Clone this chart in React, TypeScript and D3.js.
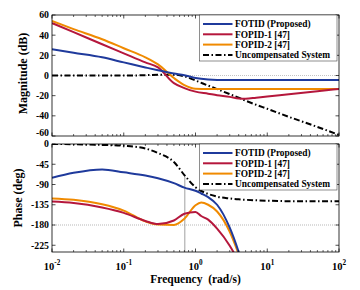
import React from "react";
import * as d3 from "d3";

// ---------- data ----------
const magFreqs = [0.01, 0.02, 0.05, 0.1, 0.2, 0.3, 0.5, 0.7, 1, 1.5, 2, 3, 4, 5, 7, 10, 20, 50, 100];
const fotidMag = [26, 22.5, 18, 13, 8, 5.2, 2, 0.3, -2.5, -4, -4.4, -4.5, -4.5, -4.5, -4.5, -4.5, -4.5, -4.5, -4.5];
const fopid1Mag = [52, 43, 31, 22, 13, 8, -7.5, -12.5, -16, -18, -19.5, -21.2, -22.8, -23, -22, -20.8, -18.6, -15.6, -13.4];
const fopid2Mag = [54, 46, 36, 27, 18, 11, -2.5, -9.5, -13.2, -13.5, -13.5, -13.5, -13.5, -13.5, -13.5, -13.5, -13.5, -13.5, -13.4];
const uncompMag = [0, 0, 0, 0, 0.3, 0.8, 0.8, -0.8, -5, -10, -13.5, -18.5, -22, -25, -29, -33, -41, -51, -59];

const phaseFreqs = [0.01, 0.02, 0.05, 0.1, 0.2, 0.3, 0.5, 0.7, 1, 1.2, 1.5, 2, 3, 4, 5];
const fotidPhase = [-75, -64, -56.5, -63, -70, -76, -87, -97, -104, -110, -118, -135, -186, -240, -290];
const fopid1Phase = [-128, -131, -141, -153, -171, -178, -170, -155, -151, -160, -168, -188, -226, -262, -295];
const fopid2Phase = [-121, -124, -134, -148, -172, -179, -180, -166, -136, -130, -135, -150, -195, -245, -290];
const uncompPhase = [0, -0.5, -2, -4, -10, -20, -40, -69, -96, -111, -117, -121, -123, -124, -125, -126, -127, -127, -127];

const markerFreq = 0.71;
const markerPhase = -72;

const magTicks = [60, 40, 20, 0, -20, -40, -60];
const phaseTicks = [0, -45, -90, -135, -180, -225];
const freqTicks = [-2, -1, 0, 1, 2];

const seriesNames = ["FOTID (Proposed)", "FOPID-1 [47]", "FOPID-2 [47]", "Uncompensated System"];
const seriesColors = ["#1f3a9c", "#b5173c", "#f08a00", "#000000"];
const seriesDash = [null, null, null, "6,2.5,1.5,2.5"];

// ---------- layout ----------
const W = 360, H = 290;
const L = 52, R = 339;
const magTop = 15, magBot = 136;
const phTop = 144, phBot = 252;
const FONT = "'Liberation Serif', 'Times New Roman', serif";

const x = d3.scaleLog().domain([0.01, 100]).range([L, R]);
const yMag = d3.scaleLinear().domain([-60, 60]).range([magBot, magTop]);
const yPh = d3.scaleLinear().domain([-240, 0]).range([phBot, phTop]);

const minorFreqs: number[] = [];
for (let d = -2; d < 2; d++) for (let k = 2; k <= 9; k++) minorFreqs.push(k * Math.pow(10, d));

function path(freqs: number[], vals: number[], y: d3.ScaleLinear<number, number>) {
  const gen = d3.line<number>()
    .x((_, i) => x(freqs[i]))
    .y((v) => y(v))
    .curve(d3.curveMonotoneX);
  return gen(vals) || "";
}

function Frame({ top, bot, yScale, ticks, nudge }: any) {
  const els: any[] = [];
  freqTicks.forEach((e) => {
    const xv = x(Math.pow(10, e));
    els.push(<line key={"xb" + e} x1={xv} x2={xv} y1={bot} y2={bot - 3.5} stroke="#000" strokeWidth={0.7} />);
    els.push(<line key={"xt" + e} x1={xv} x2={xv} y1={top} y2={top + 3.5} stroke="#000" strokeWidth={0.7} />);
  });
  minorFreqs.forEach((f, i) => {
    const xv = x(f);
    els.push(<line key={"mb" + i} x1={xv} x2={xv} y1={bot} y2={bot - 2} stroke="#000" strokeWidth={0.6} />);
    els.push(<line key={"mt" + i} x1={xv} x2={xv} y1={top} y2={top + 2} stroke="#000" strokeWidth={0.6} />);
  });
  ticks.forEach((t: number, i: number) => {
    const yv = yScale(t);
    els.push(<line key={"yl" + t} x1={L} x2={L + 3.5} y1={yv} y2={yv} stroke="#000" strokeWidth={0.7} />);
    els.push(<line key={"yr" + t} x1={R} x2={R - 3.5} y1={yv} y2={yv} stroke="#000" strokeWidth={0.7} />);
    const off = nudge && i === ticks.length - 1 ? -3.5 : 0;
    els.push(
      <text key={"yt" + t} x={L - 3} y={yv + off} dy="0.35em" textAnchor="end" fontSize={9.8} fontWeight="bold" fontFamily={FONT}>
        {t}
      </text>
    );
  });
  els.push(<rect key="box" x={L} y={top} width={R - L} height={bot - top} fill="none" stroke="#000" strokeWidth={0.8} />);
  return <g>{els}</g>;
}

function Legend({ x0, y0 }: { x0: number; y0: number }) {
  const w = 137.5, h = 46, rowH = 10.3;
  return (
    <g>
      <rect x={x0} y={y0} width={w} height={h} fill="#fff" stroke="#444" strokeWidth={0.6} />
      {seriesNames.map((n, i) => {
        const yy = y0 + 9 + i * rowH;
        return (
          <g key={n}>
            <line x1={x0 + 3.5} x2={x0 + 33} y1={yy} y2={yy} stroke={seriesColors[i]} strokeWidth={2}
              strokeDasharray={seriesDash[i] || undefined} />
            <text x={x0 + 35.5} y={yy} dy="0.35em" fontSize={9.4} fontWeight="bold" fontFamily={FONT}>{n}</text>
          </g>
        );
      })}
    </g>
  );
}

export default function App() {
  const magSeries = [fotidMag, fopid1Mag, fopid2Mag, uncompMag];
  const phSeries = [fotidPhase, fopid1Phase, fopid2Phase, uncompPhase];
  return (
    <svg width={W} height={H} style={{ position: "absolute", left: 0, top: 0, background: "#fff" }}>
      <defs>
        <clipPath id="clipMag"><rect x={L} y={magTop} width={R - L} height={magBot - magTop} /></clipPath>
        <clipPath id="clipPh"><rect x={L} y={phTop} width={R - L} height={phBot - phTop} /></clipPath>
      </defs>
      <rect x={0} y={0} width={W} height={H} fill="#fff" />

      {/* magnitude plot */}
      <line x1={L} x2={R} y1={yMag(0)} y2={yMag(0)} stroke="#aaa" strokeWidth={0.7} strokeDasharray="1,1" />
      <g clipPath="url(#clipMag)">
        {magSeries.map((s, i) => (
          <path key={i} d={path(magFreqs, s, yMag)} fill="none" stroke={seriesColors[i]} strokeWidth={2}
            strokeDasharray={seriesDash[i] || undefined} />
        )).reverse()}
      </g>
      <Frame top={magTop} bot={magBot} yScale={yMag} ticks={magTicks} nudge />
      <Legend x0={199.5} y0={magTop} />

      {/* phase plot */}
      <line x1={L} x2={R} y1={yPh(-180)} y2={yPh(-180)} stroke="#999" strokeWidth={0.7} strokeDasharray="1,1" />
      <line x1={x(markerFreq)} x2={x(markerFreq)} y1={phBot} y2={yPh(markerPhase)} stroke="#888" strokeWidth={0.8} />
      <g clipPath="url(#clipPh)">
        {phSeries.map((s, i) => (
          <path key={i} d={path(i === 3 ? magFreqs : phaseFreqs, s, yPh)} fill="none" stroke={seriesColors[i]}
            strokeWidth={2} strokeDasharray={seriesDash[i] || undefined} />
        )).reverse()}
      </g>
      <Frame top={phTop} bot={phBot} yScale={yPh} ticks={phaseTicks} />
      <Legend x0={199.5} y0={phTop} />

      {/* x tick labels */}
      {freqTicks.map((e) => (
        <text key={e} x={x(Math.pow(10, e))} y={269.5} textAnchor="middle" fontSize={10.5} fontWeight="bold" fontFamily={FONT}>
          <tspan>10</tspan>
          <tspan dy={-4.5} fontSize={7.2}>{String(e)}</tspan>
        </text>
      ))}

      {/* axis labels */}
      <text x={195.5} y={283} textAnchor="middle" fontSize={11.5} fontWeight="bold" fontFamily={FONT} style={{ whiteSpace: "pre" }}>
        {"Frequency  (rad/s)"}
      </text>
      <text transform={`translate(27,${(magTop + magBot) / 2 - 2}) rotate(-90)`} textAnchor="middle" fontSize={12}
        fontWeight="bold" fontFamily={FONT}>Magnitude (dB)</text>
      <text transform={`translate(22,${(phTop + phBot) / 2}) rotate(-90)`} textAnchor="middle" fontSize={12}
        fontWeight="bold" fontFamily={FONT}>Phase (deg)</text>
    </svg>
  );
}
